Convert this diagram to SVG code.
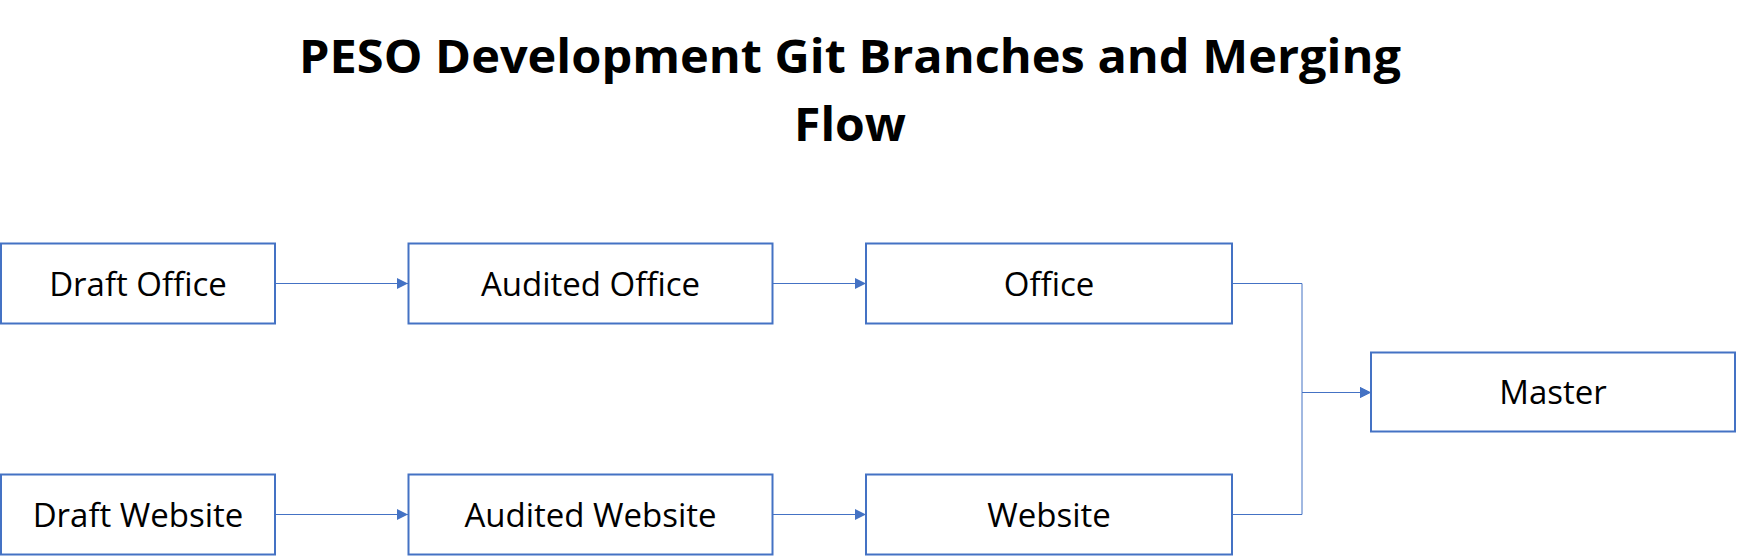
<svg xmlns="http://www.w3.org/2000/svg" width="1737" height="559" viewBox="0 0 1737 559">
<style>
.box{fill:#ffffff;stroke:#4472C4;stroke-width:2}
.lbl{font-family:"Open Sans","Liberation Sans",sans-serif;font-size:33px;fill:#000000;text-anchor:middle}
.ttl{font-family:"Open Sans","Liberation Sans",sans-serif;font-size:46px;font-weight:bold;fill:#000000;text-anchor:middle}
.conn{fill:none;stroke:#4472C4;stroke-width:1}
</style>
<defs>
<marker id="arr" markerWidth="11" markerHeight="11" refX="11" refY="5.5" orient="auto" markerUnits="userSpaceOnUse">
<path d="M0,0 L11,5.5 L0,11 Z" fill="#4472C4"/>
</marker>
</defs>
<rect width="1737" height="559" fill="#ffffff"/>
<g id="title">
<text class="ttl" x="850" y="73" textLength="1102" lengthAdjust="spacingAndGlyphs">PESO Development Git Branches and Merging</text>
<text class="ttl" x="850" y="141" textLength="112" lengthAdjust="spacingAndGlyphs">Flow</text>
</g>
<g id="connectors">
<path class="conn" d="M275,283.5 L408,283.5" marker-end="url(#arr)"/>
<path class="conn" d="M773,283.5 L866,283.5" marker-end="url(#arr)"/>
<path class="conn" d="M275,514.5 L408,514.5" marker-end="url(#arr)"/>
<path class="conn" d="M773,514.5 L866,514.5" marker-end="url(#arr)"/>
<path class="conn" d="M1232,283.5 L1302,283.5 L1302,392.5 L1371,392.5" marker-end="url(#arr)"/>
<path class="conn" d="M1232,514.5 L1302,514.5 L1302,392.5 L1371,392.5" marker-end="url(#arr)"/>
</g>
<g id="draft-office">
<rect class="box" x="1" y="243.5" width="274" height="80"/>
<text class="lbl" x="138" y="295.5">Draft Office</text>
</g>
<g id="audited-office">
<rect class="box" x="408.5" y="243.5" width="364" height="80"/>
<text class="lbl" x="590.5" y="295.5">Audited Office</text>
</g>
<g id="office">
<rect class="box" x="866" y="243.5" width="366" height="80"/>
<text class="lbl" x="1049" y="295.5">Office</text>
</g>
<g id="draft-website">
<rect class="box" x="1" y="474.5" width="274" height="80"/>
<text class="lbl" x="138" y="526.5">Draft Website</text>
</g>
<g id="audited-website">
<rect class="box" x="408.5" y="474.5" width="364" height="80"/>
<text class="lbl" x="590.5" y="526.5">Audited Website</text>
</g>
<g id="website">
<rect class="box" x="866" y="474.5" width="366" height="80"/>
<text class="lbl" x="1049" y="526.5">Website</text>
</g>
<g id="master">
<rect class="box" x="1371" y="352.5" width="364" height="79"/>
<text class="lbl" x="1553" y="404">Master</text>
</g>
</svg>
